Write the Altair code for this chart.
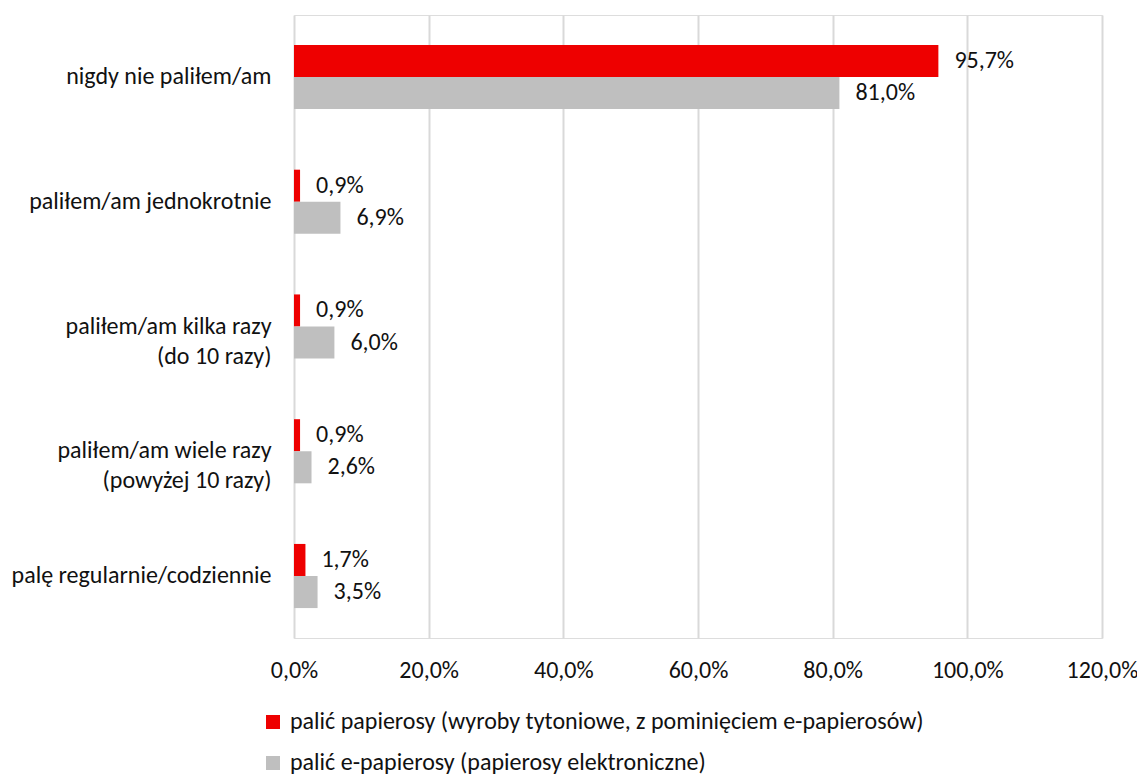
import altair as alt
import pandas as pd

categories = [
    "nigdy nie paliłem/am",
    "paliłem/am jednokrotnie",
    "paliłem/am kilka razy|(do 10 razy)",
    "paliłem/am wiele razy|(powyżej 10 razy)",
    "palę regularnie/codziennie",
]
series = [
    "palić papierosy (wyroby tytoniowe, z pominięciem e-papierosów)",
    "palić e-papierosy (papierosy elektroniczne)",
]
cigarettes = [95.7, 0.9, 0.9, 0.9, 1.7]
e_cigarettes = [81.0, 6.9, 6.0, 2.6, 3.5]
x_ticks = [0, 20, 40, 60, 80, 100, 120]
colors = ["#EE0000", "#BFBFBF"]

rows = []
for i, c in enumerate(categories):
    for s, vals in zip(series, [cigarettes, e_cigarettes]):
        v = vals[i]
        rows.append({"cat": c, "series": s, "value": v,
                     "label": f"{v:.1f}".replace(".", ",") + "%"})
df = pd.DataFrame(rows)

FONT = "Calibri, Carlito, Lato, sans-serif"
TXT = "#111111"

y_enc = alt.Y("cat:N", sort=categories,
              scale=alt.Scale(paddingInner=0.486, paddingOuter=0.24),
              axis=alt.Axis(title=None, labelExpr="split(datum.label, '|')",
                            labelFontSize=24, labelFont=FONT, labelColor=TXT,
                            labelPadding=23, labelLineHeight=30,
                            ticks=False, domain=False, labelAlign="right",
                            labelLimit=400))
yoff = alt.YOffset("series:N", sort=series,
                   scale=alt.Scale(paddingInner=0, paddingOuter=0))

base = alt.Chart(df)

bars = base.mark_bar().encode(
    y=y_enc,
    yOffset=yoff,
    x=alt.X("value:Q", scale=alt.Scale(domain=[0, 120], nice=False),
            axis=alt.Axis(title=None, values=x_ticks,
                          labelExpr="replace(format(datum.value, '.1f'), '.', ',') + '%'",
                          labelFontSize=24, labelFont=FONT, labelColor=TXT,
                          labelPadding=20, ticks=False, domain=False,
                          labelFlush=False, labelOverlap=False,
                          grid=True, gridColor="#D9D9D9", gridWidth=2)),
    color=alt.Color("series:N", sort=series,
                    scale=alt.Scale(domain=series, range=colors),
                    legend=alt.Legend(title=None, orient="none", legendX=-33, legendY=695,
                                      direction="vertical", symbolType="square",
                                      symbolSize=196, symbolStrokeWidth=0,
                                      labelFontSize=24, labelFont=FONT, labelColor=TXT,
                                      labelOffset=5, rowPadding=17, labelLimit=900)),
)

texts = base.mark_text(align="left", baseline="middle", dx=16, fontSize=24,
                       font=FONT, color=TXT).encode(
    y=alt.Y("cat:N", sort=categories),
    yOffset=yoff,
    x=alt.X("value:Q"),
    text="label:N",
)

chart = alt.layer(bars, texts).properties(
    width=808, height=623,
    autosize=alt.AutoSizeParams(type="none"),
    padding={"left": 286, "top": 7, "right": 35, "bottom": 140},
).configure_view(stroke=None).configure(background="white")

chart.save("out.html", embed_options={"renderer": "svg", "actions": False})
